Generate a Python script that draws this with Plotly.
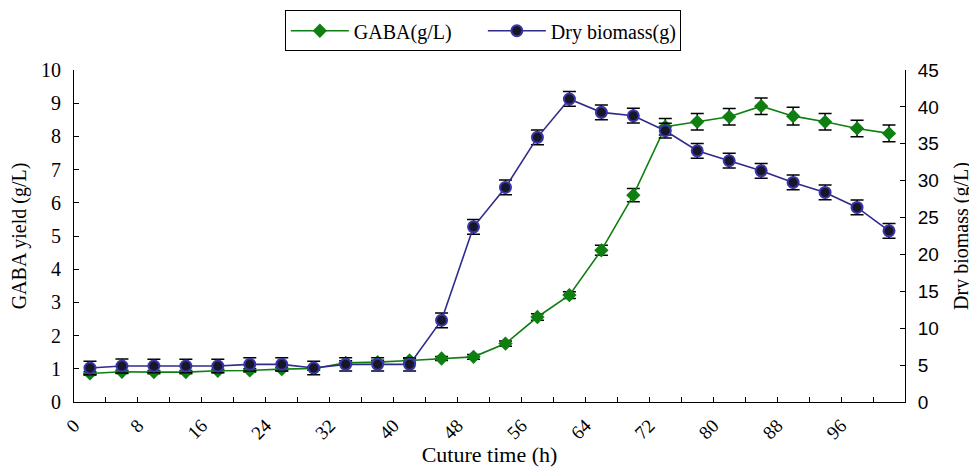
import plotly.graph_objects as go

time_h = [2, 6, 10, 14, 18, 22, 26, 30, 34, 38, 42, 46, 50, 54, 58, 62, 66, 70, 74, 78, 82, 86, 90, 94, 98, 102]
gaba = [0.86, 0.91, 0.90, 0.90, 0.94, 0.95, 0.99, 1.01, 1.18, 1.20, 1.25, 1.31, 1.36, 1.76, 2.56, 3.22, 4.57, 6.23, 8.29, 8.44, 8.59, 8.91, 8.61, 8.44, 8.24, 8.09]
gaba_err = [0.05, 0.05, 0.05, 0.05, 0.05, 0.05, 0.05, 0.05, 0.06, 0.06, 0.06, 0.06, 0.07, 0.08, 0.10, 0.10, 0.15, 0.20, 0.25, 0.25, 0.25, 0.25, 0.27, 0.25, 0.25, 0.25]
biomass = [4.61, 4.88, 4.88, 4.88, 4.88, 5.10, 5.10, 4.61, 5.10, 5.10, 5.10, 11.08, 23.74, 29.08, 35.87, 41.07, 39.26, 38.80, 36.77, 34.05, 32.70, 31.34, 29.76, 28.40, 26.37, 23.20]
biomass_err = [0.9, 0.95, 0.9, 0.9, 0.9, 0.9, 0.9, 0.9, 0.9, 0.9, 0.9, 1.0, 1.0, 1.0, 1.0, 1.0, 1.0, 1.0, 1.0, 1.0, 1.0, 1.0, 1.0, 1.0, 1.0, 1.0]

x_tickvals = list(range(0, 101, 4))
x_ticktext = [str(v) if v % 8 == 0 else "" for v in x_tickvals]
left_tickvals = list(range(0, 11, 1))
right_tickvals = list(range(0, 46, 5))

serif = "Liberation Serif"
sans = "Liberation Sans"

fig = go.Figure()
fig.add_trace(go.Scatter(
    x=time_h, y=gaba, name="GABA(g/L)", mode="lines+markers",
    line=dict(color="#0f7f12", width=1.6),
    marker=dict(symbol="diamond", size=11, color="#0f7f12"),
    error_y=dict(type="data", array=gaba_err, color="black", thickness=1.5, width=6.5),
    yaxis="y"))
fig.add_trace(go.Scatter(
    x=time_h, y=biomass, name="Dry biomass(g)", mode="lines+markers",
    line=dict(color="#2f2a8c", width=1.6),
    marker=dict(symbol="circle", size=11, color="#17172a", line=dict(color="#3b36a8", width=2)),
    error_y=dict(type="data", array=biomass_err, color="black", thickness=1.5, width=6.5),
    yaxis="y2"))

fig.update_layout(
    width=969, height=459,
    margin=dict(l=66, r=72, t=62, b=65, autoexpand=False),
    paper_bgcolor="white", plot_bgcolor="white",
    font=dict(family=serif, size=19, color="black"),
    showlegend=True,
    legend=dict(orientation="h", x=0.492, xanchor="center", y=1.18, yanchor="top",
                bordercolor="black", borderwidth=1, bgcolor="white",
                itemwidth=58, entrywidth=124,
                font=dict(family=serif, size=20)),
    xaxis=dict(range=[0, 104], tickmode="array", tickvals=x_tickvals, ticktext=x_ticktext,
               tickangle=-45, ticks="inside", ticklen=5, tickcolor="black",
               showline=True, linecolor="black", linewidth=1, showgrid=False, zeroline=False,
               tickfont=dict(family=serif, size=19), ticklabelstandoff=4,
               title=dict(text="Cuture time (h)", font=dict(family=serif, size=22), standoff=12)),
    yaxis=dict(range=[0, 10], tickvals=left_tickvals, ticks="inside", ticklen=5, tickcolor="black",
               showline=True, linecolor="black", linewidth=1, showgrid=False, zeroline=False,
               tickfont=dict(family=serif, size=20), ticklabelstandoff=8,
               title=dict(text="GABA yield (g/L)", font=dict(family=serif, size=20), standoff=10)),
    yaxis2=dict(range=[0, 45], tickvals=right_tickvals, overlaying="y", side="right",
                ticks="inside", ticklen=5, tickcolor="black",
                showline=True, linecolor="black", linewidth=1, showgrid=False, zeroline=False,
                tickfont=dict(family=sans, size=19), ticklabelstandoff=8,
                title=dict(text="Dry biomass (g/L)", font=dict(family=serif, size=20), standoff=16)),
)

fig.write_html("out.html")
